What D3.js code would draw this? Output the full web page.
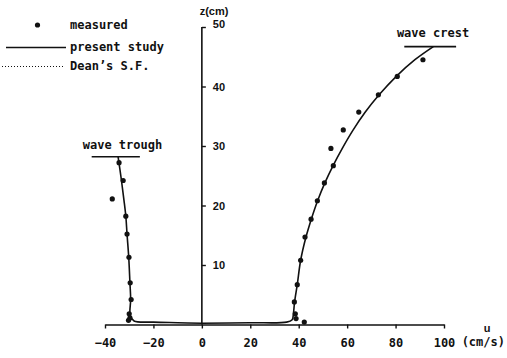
<!DOCTYPE html>
<html>
<head>
<meta charset="utf-8">
<script src="https://cdn.jsdelivr.net/npm/d3@7"></script>
<style>
body { margin: 0; background: #fff; }
text { font-family: "DejaVu Sans Mono", monospace; font-size: 12px; font-weight: bold; fill: #111; }
text.sans { font-family: "Liberation Sans", Arial, sans-serif; font-size: 11px; font-weight: bold; }
</style>
</head>
<body>
<svg class="canvas"></svg>
<script>
// measured points under the wave trough (u cm/s, z cm)
var troughU = [-34.2, -32.5, -37.0, -31.4, -30.9, -30.1, -29.6, -29.2, -30.0, -29.7, -30.3];
var troughZ = [27.2, 24.2, 21.1, 18.2, 15.2, 11.3, 7.0, 4.2, 1.8, 1.1, 0.7];

// measured points under the wave crest
var crestU = [91.3, 80.7, 72.9, 64.8, 58.4, 53.3, 54.3, 50.6, 47.7, 45.1, 42.6, 40.8, 39.4, 38.2, 38.6, 38.9, 42.3];
var crestZ = [44.5, 41.7, 38.6, 35.7, 32.7, 29.6, 26.7, 23.8, 20.8, 17.7, 14.7, 10.8, 6.7, 3.8, 1.8, 1.0, 0.4];

// present study curves
var studyTroughU = [-34.6, -33.2, -32.2, -31.4, -30.9, -30.2, -29.7, -29.4, -29.6, -28, -20, -10, 0];
var studyTroughZ = [28.2, 24.2, 21.0, 18.2, 15.2, 11.3, 7.0, 4.2, 1.5, 0.6, 0.4, 0.3, 0.2];
var studyCrestU = [0, 20, 35, 37.3, 37.8, 38.3, 39.4, 40.8, 43.0, 45.2, 47.8, 50.8, 54.2, 58.0, 62.5, 67.5, 73.2, 80.3, 88.0, 95.6];
var studyCrestZ = [0.2, 0.3, 0.4, 0.8, 1.8, 3.8, 6.7, 10.8, 14.7, 17.7, 20.8, 23.8, 26.7, 29.6, 32.7, 35.7, 38.6, 41.7, 44.5, 46.7];

// surface levels [u from, u to, z]
var troughLevel = [-45.5, -25.6, 28.2];
var crestLevel = [83.6, 105, 46.7];

var xTicks = [-40, -20, 0, 20, 40, 60, 80, 100];
var yTicks = [10, 20, 30, 40, 50];

var width = 507,
	height = 358;

var X0 = 105, X1 = 444;
var Y0 = 324.5, Y1 = 27;

var canvas, x, y;

window.onload = function createVisualization() {

canvas = d3.select(".canvas")
	.attr("width", width)
	.attr("height", height);

x = d3.scaleLinear().domain([-40, 100]).range([X0, X1]);
y = d3.scaleLinear().domain([0, 50]).range([Y0, Y1]);

drawAxes();
drawData();
drawLegend();

}

function drawAxes() {

var xa = canvas.append("g")
	.attr("transform", "translate(0," + Y0 + ")")
	.call(d3.axisBottom(x).tickValues(xTicks).tickSize(4).tickSizeOuter(0).tickPadding(10));

var ya = canvas.append("g")
	.attr("transform", "translate(" + x(0) + ",0)")
	.call(d3.axisRight(y).tickValues(yTicks).tickSize(4).tickSizeOuter(0).tickPadding(7));

[xa, ya].forEach(function(a) {
	a.select(".domain").attr("stroke", "#111").attr("stroke-width", 1.6);
	a.selectAll(".tick line").attr("stroke", "#111").attr("stroke-width", 1.4);
	a.selectAll(".tick text").attr("font-family", null).attr("font-size", null).attr("fill", "#111");
});
ya.selectAll(".tick text").attr("class", "sans");
ya.select(".domain").attr("d", "M0," + Y0 + "V" + Y1);
ya.selectAll(".tick").filter(function(d) { return d == 50; }).select("text").attr("dy", "0.05em");

canvas.append("text").attr("class", "sans").attr("x", 214).attr("y", 15).attr("text-anchor", "middle").text("z(cm)");
canvas.append("text").attr("class", "sans").attr("x", 487).attr("y", 332).attr("text-anchor", "middle").text("u");
canvas.append("text").attr("x", 505).attr("y", 346).attr("text-anchor", "end").text("(cm/s)");
}

function drawData() {

var line = d3.line()
	.x(function(d) { return x(d[0]); })
	.y(function(d) { return y(d[1]); })
	.curve(d3.curveCatmullRom);

canvas.append("path")
	.datum(d3.zip(studyTroughU, studyTroughZ))
	.attr("d", line)
	.attr("fill", "none").attr("stroke", "#111").attr("stroke-width", 1.6);

canvas.append("path")
	.datum(d3.zip(studyCrestU, studyCrestZ))
	.attr("d", line)
	.attr("fill", "none").attr("stroke", "#111").attr("stroke-width", 1.6);

[troughLevel, crestLevel].forEach(function(l) {
	canvas.append("line")
		.attr("x1", x(l[0])).attr("x2", x(l[1]))
		.attr("y1", y(l[2])).attr("y2", y(l[2]))
		.attr("stroke", "#111").attr("stroke-width", 1.6);
});

canvas.append("text").attr("x", 122.5).attr("y", 149).attr("text-anchor", "middle").text("wave trough");
canvas.append("text").attr("x", 433).attr("y", 37).attr("text-anchor", "middle").text("wave crest");

canvas.selectAll("circle.trough").data(d3.zip(troughU, troughZ))
	.enter().append("circle")
	.attr("class", "trough")
	.attr("cx", function(d) { return x(d[0]); })
	.attr("cy", function(d) { return y(d[1]); })
	.attr("r", 2.6)
	.attr("fill", "#111");

canvas.selectAll("circle.crest").data(d3.zip(crestU, crestZ))
	.enter().append("circle")
	.attr("class", "crest")
	.attr("cx", function(d) { return x(d[0]); })
	.attr("cy", function(d) { return y(d[1]); })
	.attr("r", 2.6)
	.attr("fill", "#111");
}

function drawLegend() {

canvas.append("circle").attr("cx", 37.5).attr("cy", 25).attr("r", 2.6).attr("fill", "#111");
canvas.append("text").attr("x", 70).attr("y", 29).text("measured");

canvas.append("line").attr("x1", 6).attr("x2", 66).attr("y1", 47.5).attr("y2", 47.5)
	.attr("stroke", "#111").attr("stroke-width", 1.6);
canvas.append("text").attr("x", 70).attr("y", 51).text("present study");

canvas.append("line").attr("x1", 2).attr("x2", 64).attr("y1", 66.5).attr("y2", 66.5)
	.attr("stroke", "#111").attr("stroke-width", 1.2).attr("stroke-dasharray", "1,2");
canvas.append("text").attr("x", 70).attr("y", 70).text("Dean\u2019s S.F.");
}
</script>
</body>
</html>
